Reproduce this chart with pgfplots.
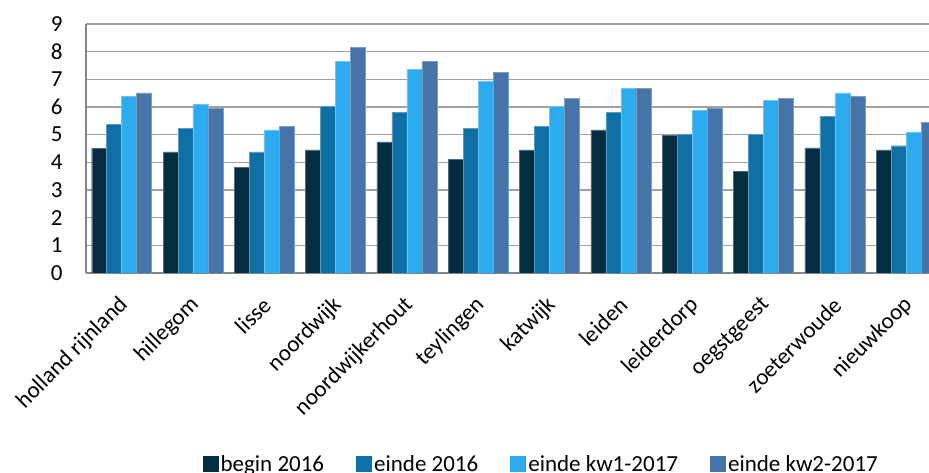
\documentclass[border=0pt]{standalone}
\usepackage{pgfplots}
\pgfplotsset{compat=1.18}
\usepackage{fontspec}
\setmainfont{Carlito}
\definecolor{cA}{RGB}{5,45,66}
\definecolor{cB}{RGB}{14,112,165}
\definecolor{cC}{RGB}{44,172,238}
\definecolor{cD}{RGB}{70,115,168}
\definecolor{gridc}{RGB}{160,160,160}
\definecolor{axc}{RGB}{134,134,134}
\newcommand{\fs}{\fontsize{23}{27}\selectfont}
\begin{document}
\begin{tikzpicture}
\begin{axis}[
  name=ax,
  scale only axis,
  width=843pt, height=249pt,
  xmin=-0.5, xmax=11.32, ymin=0, ymax=9,
  ybar=0pt, bar width=0.21,
  axis lines*=left,
  axis line style={-, axc, line width=1.5pt},
  ymajorgrids, grid style={gridc, line width=1.4pt},
  major tick length=0pt,
  ytick={0,1,...,9},
  xtick={0,1,...,11},
  xticklabels={holland rijnland,hillegom,lisse,noordwijk,noordwijkerhout,teylingen,katwijk,leiden,leiderdorp,oegstgeest,zoeterwoude,nieuwkoop},
  /pgf/number format/assume math mode=true,
  ticklabel style={font=\fs, text=black},
  yticklabel style={xshift=-20pt},
  xticklabel style={xshift=5pt, yshift=-26pt, rotate=45, anchor=east},
  legend columns=4,
  legend style={at={(axis description cs:0.54,-0.767)}, anchor=center, draw=none, fill=none, font=\fs, inner sep=0pt,
    /tikz/every even column/.append style={column sep=30pt},
    nodes={inner xsep=2pt}},
  legend image code/.code={\path[#1, draw=none] (0pt,-8pt) rectangle (16pt,8pt);},
  every axis plot/.append style={line width=0.4pt},
]
\addplot[fill=cA, draw=cA!70!white] coordinates {(0,4.51) (1,4.38) (2,3.81) (3,4.45) (4,4.74) (5,4.10) (6,4.45) (7,5.17) (8,4.98) (9,3.67) (10,4.52) (11,4.45)};
\addplot[fill=cB, draw=cB!70!white] coordinates {(0,5.37) (1,5.24) (2,4.38) (3,6.02) (4,5.80) (5,5.24) (6,5.31) (7,5.80) (8,5.02) (9,5.02) (10,5.67) (11,4.60)};
\addplot[fill=cC, draw=cC!70!white] coordinates {(0,6.38) (1,6.10) (2,5.17) (3,7.65) (4,7.37) (5,6.94) (6,6.02) (7,6.67) (8,5.88) (9,6.24) (10,6.51) (11,5.10)};
\addplot[fill=cD, draw=cD!70!white] coordinates {(0,6.51) (1,5.95) (2,5.31) (3,8.15) (4,7.65) (5,7.24) (6,6.31) (7,6.67) (8,5.95) (9,6.31) (10,6.38) (11,5.45)};
\legend{begin 2016,einde 2016,einde kw1-2017,einde kw2-2017}
\end{axis}
\pgfresetboundingbox
\path[use as bounding box] ([xshift=-86pt,yshift=-200pt]ax.south west) rectangle ([yshift=24pt]ax.north east);
\end{tikzpicture}
\end{document}
